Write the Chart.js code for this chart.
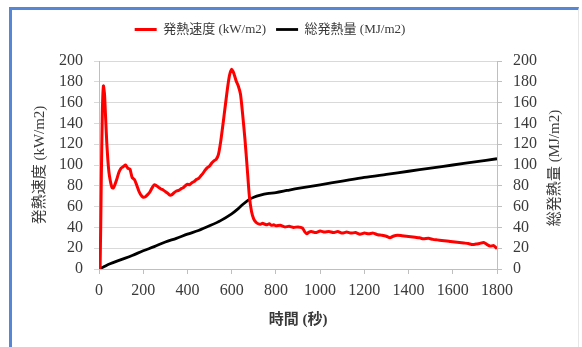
<!DOCTYPE html>
<html lang="ja">
<head>
<meta charset="UTF-8">
<title>発熱速度と総発熱量</title>
<script src="https://cdn.jsdelivr.net/npm/chart.js@4.4.1/dist/chart.umd.min.js"></script>
<style>
  html, body { margin: 0; padding: 0; background: #ffffff; }
  #wrap { position: relative; width: 582px; height: 347px; overflow: hidden; }
  #frame {
    position: absolute; left: 9px; top: 7px; width: 566px; height: 345px;
    border-left: 3px solid #5687d6; border-top: 3px solid #5687d6;
    border-right: 1px solid #e6e6e6; pointer-events: none;
  }
</style>
</head>
<body>
<div id="wrap">
  <canvas id="heatChart" width="582" height="347"></canvas>
  <div id="frame"></div>
</div>
<script>
// -----------------------------
// Data
// -----------------------------
const hrrLabel = "発熱速度 (kW/m2)";
const thrLabel = "総発熱量 (MJ/m2)";

// heat release rate: time (s) / kW/m2
const hrrTime = [
  0, 5, 10, 15, 20, 25, 30, 35, 40, 45, 50, 55, 60, 65, 70, 80, 90, 100, 110, 120,
  130, 140, 145, 150, 160, 170, 180, 190, 200, 210, 220, 230, 240, 250, 260, 270, 280, 290, 300, 310,
  320, 330, 340, 350, 360, 370, 380, 390, 400, 410, 420, 430, 440, 450, 460, 470, 480, 490, 500, 510,
  520, 530, 540, 550, 560, 570, 580, 590, 600, 610, 620, 630, 640, 650, 660, 670, 680, 690, 700, 710,
  720, 730, 740, 750, 760, 770, 780, 790, 800, 820, 840, 860, 880, 900, 920, 930, 940, 950, 960, 980,
  1000, 1020, 1040, 1060, 1080, 1100, 1120, 1140, 1160, 1180, 1200, 1220, 1240, 1260, 1280, 1300, 1316, 1330, 1350, 1370,
  1390, 1410, 1430, 1450, 1467, 1490, 1510, 1530, 1550, 1573, 1590, 1610, 1630, 1650, 1670, 1690, 1705, 1720, 1740, 1755,
  1770, 1785, 1800
];
const hrrValues = [
  0, 2, 80, 150, 176, 168, 145, 122, 105, 93, 86, 81, 78, 78, 80, 86, 93, 97, 98.5, 100,
  97, 96, 92, 88, 86, 81, 75, 71, 69, 69.5, 71.5, 74, 78, 81, 80, 78.5, 77, 76, 74.5, 73,
  71, 71.5, 73.5, 75, 75.5, 77, 78, 80, 81.5, 81, 83, 84, 86, 87, 89.5, 92, 95, 97.5, 99, 102,
  104, 105.5, 110, 122, 138, 155, 172, 186, 192, 188, 181, 176, 168, 148, 125, 98, 70, 55, 48, 45,
  43.5, 43, 44, 43, 42.5, 43.5, 42, 42.5, 41.5, 42, 40.5, 41, 40, 40.5, 39.5, 36, 34, 35.5, 36, 35,
  36.5, 35.5, 36, 35, 36, 34.5, 35.5, 34.5, 35, 33.5, 34.5, 34, 34.5, 33, 32.5, 31.5, 30, 31.5, 32.5, 32,
  31.5, 31, 30.5, 30, 29, 29.5, 28.5, 28, 27.5, 27, 26.5, 26, 25.5, 25, 24.5, 23.5, 24, 24.5, 25.5, 23.5,
  22, 22.5, 19.5
];

// total heat release: time (s) / MJ/m2
const thrTime = [
  0, 20, 50, 100, 150, 200, 250, 300, 350, 400, 450, 500, 550, 600, 630, 650,
  680, 700, 730, 760, 800, 850, 900, 1000, 1100, 1200, 1300, 1400, 1500, 1600, 1700, 1800
];
const thrValues = [
  0, 2, 5, 9, 13, 17.5, 21.5, 26, 29.5, 33.5, 37, 41.5, 46.5, 53, 58, 62,
  67, 69, 71, 72.5, 73.5, 75.5, 77.5, 81, 84.5, 88, 91, 94, 97, 100, 103, 106
];

// axis ticks
const timeTicks = [0, 200, 400, 600, 800, 1000, 1200, 1400, 1600, 1800];
const valueTicks = [0, 20, 40, 60, 80, 100, 120, 140, 160, 180, 200];

// -----------------------------
// Styles
// -----------------------------
const serifFont = "'Liberation Serif', 'Noto Sans CJK JP', serif";
const textColor = "#3a3a3a";
const gridColor = "#d9d9d9";
const axisColor = "#bfbfbf";

function toPoints(xs, ys) {
  return xs.map((x, i) => ({ x: x, y: ys[i] }));
}

// legend: extra gap under it, and nudged left like the original
const legendTweakPlugin = {
  id: "legendTweak",
  afterInit(chart) {
    const legend = chart.legend;
    const fit = legend.fit;
    legend.fit = function () {
      fit.call(this);
      this.height += 15;
    };
  },
  afterLayout(chart) {
    chart.legend.left -= 21;
    chart.legend.right -= 21;
  }
};

// right axis title drawn bottom-to-top like the original
const rightTitlePlugin = {
  id: "rightTitle",
  afterDraw(chart) {
    const ctx = chart.ctx;
    ctx.save();
    ctx.translate(555, 168);
    ctx.rotate(-Math.PI / 2);
    ctx.font = "15px " + serifFont;
    ctx.fillStyle = textColor;
    ctx.textAlign = "center";
    ctx.textBaseline = "middle";
    ctx.fillText(thrLabel, 0, 0);
    ctx.restore();
  }
};

// -----------------------------
// Render chart
// -----------------------------
function renderHeatChart() {
  const ctx = document.getElementById("heatChart").getContext("2d");

  const tickFont = { family: serifFont, size: 16 };
  const plainLabel = (v) => String(v);

  new Chart(ctx, {
    type: "line",
    data: {
      datasets: [
        {
          label: hrrLabel,
          data: toPoints(hrrTime, hrrValues),
          borderColor: "#ff0000",
          backgroundColor: "#ff0000",
          borderWidth: 3,
          pointRadius: 0,
          tension: 0.2,
          yAxisID: "y"
        },
        {
          label: thrLabel,
          data: toPoints(thrTime, thrValues),
          borderColor: "#000000",
          backgroundColor: "#000000",
          borderWidth: 2.8,
          pointRadius: 0,
          tension: 0.3,
          yAxisID: "y2"
        }
      ]
    },
    options: {
      responsive: false,
      animation: false,
      layout: { padding: { top: 13, left: 0, right: 0, bottom: 0 } },
      plugins: {
        legend: {
          display: true,
          position: "top",
          labels: {
            usePointStyle: true,
            pointStyle: "line",
            pointStyleWidth: 22,
            boxHeight: 12,
            padding: 10,
            color: textColor,
            font: { family: serifFont, size: 13 }
          }
        },
        tooltip: { enabled: false }
      },
      scales: {
        x: {
          type: "linear",
          min: 0,
          max: 1800,
          afterBuildTicks: (scale) => { scale.ticks = timeTicks.map(v => ({ value: v })); },
          afterFit: (scale) => { scale.height = 78; },
          ticks: { color: textColor, padding: 7, maxRotation: 0, autoSkip: false, font: tickFont, callback: plainLabel },
          grid: { drawOnChartArea: false, color: axisColor, tickLength: 5 },
          border: { color: axisColor },
          title: {
            display: true,
            text: "時間 (秒)",
            color: textColor,
            padding: { bottom: 18 },
            font: { family: serifFont, size: 15, weight: "bold" }
          }
        },
        y: {
          position: "left",
          min: 0,
          max: 200,
          afterBuildTicks: (scale) => { scale.ticks = valueTicks.map(v => ({ value: v })); },
          afterFit: (scale) => { scale.width = 99; },
          ticks: { color: textColor, padding: 11, autoSkip: false, font: tickFont, callback: plainLabel },
          grid: { color: gridColor, tickLength: 5 },
          border: { color: axisColor },
          title: {
            display: true,
            text: hrrLabel,
            color: textColor,
            padding: { top: 31 },
            font: { family: serifFont, size: 15 }
          }
        },
        y2: {
          position: "right",
          min: 0,
          max: 200,
          afterBuildTicks: (scale) => { scale.ticks = valueTicks.map(v => ({ value: v })); },
          afterFit: (scale) => { scale.width = 85; },
          ticks: { color: textColor, padding: 11, autoSkip: false, font: tickFont, callback: plainLabel },
          grid: { drawOnChartArea: false, color: axisColor, tickLength: 5 },
          border: { color: axisColor }
        }
      }
    },
    plugins: [legendTweakPlugin, rightTitlePlugin]
  });
}

// -----------------------------
// Initialize
// -----------------------------
document.addEventListener("DOMContentLoaded", () => {
  renderHeatChart();
});
</script>
</body>
</html>
